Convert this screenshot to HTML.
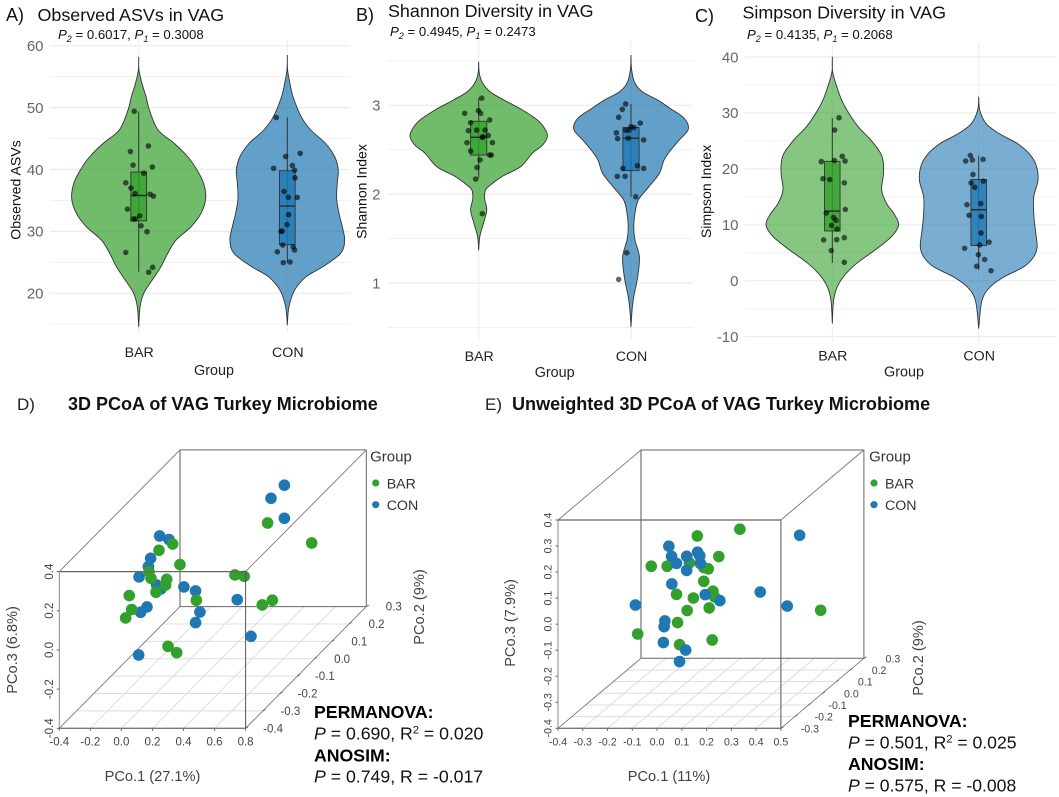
<!DOCTYPE html>
<html lang="en">
<head>
<meta charset="utf-8">
<title>VAG microbiome diversity and PCoA</title>
<style>
html,body{margin:0;padding:0;background:#fff;}
svg{display:block;font-family:"Liberation Sans",Arial,sans-serif;}
</style>
</head>
<body>
<svg id="fig" xmlns="http://www.w3.org/2000/svg" width="1059" height="797" viewBox="0 0 1059 797">
  <rect width="1059" height="797" fill="#fff"/>

  <text x="6" y="21" font-size="18" fill="#111">A)</text>
  <text x="37.5" y="21" font-size="17.9" fill="#111">Observed ASVs in VAG</text>
  <text x="58" y="39" font-size="13.2" fill="#111"><tspan font-style="italic">P</tspan><tspan font-style="italic" font-size="9" dy="3">2</tspan><tspan dy="-3"> = 0.6017, </tspan><tspan font-style="italic">P</tspan><tspan font-style="italic" font-size="9" dy="3">1</tspan><tspan dy="-3"> = 0.3008</tspan></text>
  <text transform="translate(20.5,190) rotate(-90)" text-anchor="middle" font-size="14.1" fill="#111">Observed ASVs</text>
  <text x="214" y="375" text-anchor="middle" font-size="14.4" fill="#222">Group</text>

  <text x="356" y="21" font-size="18" fill="#111">B)</text>
  <text x="388" y="17" font-size="17.9" fill="#111">Shannon Diversity in VAG</text>
  <text x="390" y="36" font-size="13.2" fill="#111"><tspan font-style="italic">P</tspan><tspan font-style="italic" font-size="9" dy="3">2</tspan><tspan dy="-3"> = 0.4945, </tspan><tspan font-style="italic">P</tspan><tspan font-style="italic" font-size="9" dy="3">1</tspan><tspan dy="-3"> = 0.2473</tspan></text>
  <text transform="translate(366.5,191.5) rotate(-90)" text-anchor="middle" font-size="14.1" fill="#111">Shannon Index</text>
  <text x="554.7" y="377" text-anchor="middle" font-size="14.4" fill="#222">Group</text>

  <text x="695" y="22" font-size="18" fill="#111">C)</text>
  <text x="742.5" y="18.5" font-size="17.9" fill="#111">Simpson Diversity in VAG</text>
  <text x="747" y="39" font-size="13.2" fill="#111"><tspan font-style="italic">P</tspan><tspan font-style="italic" font-size="9" dy="3">2</tspan><tspan dy="-3"> = 0.4135, </tspan><tspan font-style="italic">P</tspan><tspan font-style="italic" font-size="9" dy="3">1</tspan><tspan dy="-3"> = 0.2068</tspan></text>
  <text transform="translate(711,191.5) rotate(-90)" text-anchor="middle" font-size="14.1" fill="#111">Simpson Index</text>
  <text x="904" y="376.5" text-anchor="middle" font-size="14.4" fill="#222">Group</text>

  <text x="17" y="410" font-size="17" fill="#222">D)</text>
  <text x="68" y="410" font-size="18" font-weight="bold" fill="#111">3D PCoA of VAG Turkey Microbiome</text>
  <text x="485" y="410" font-size="17" fill="#222">E)</text>
  <text x="512" y="410" font-size="18.07" font-weight="bold" fill="#111">Unweighted 3D PCoA of VAG Turkey Microbiome</text>

  <text x="314" y="718" font-size="17.7" font-weight="bold" fill="#000">PERMANOVA:</text>
  <text x="314" y="739.5" font-size="17.7" fill="#111"><tspan font-style="italic">P</tspan> = 0.690, R<tspan font-size="11" dy="-6">2</tspan><tspan dy="6"> = 0.020</tspan></text>
  <text x="314" y="761.5" font-size="17.7" font-weight="bold" fill="#000">ANOSIM:</text>
  <text x="314" y="782.5" font-size="17.7" fill="#111"><tspan font-style="italic">P</tspan> = 0.749, R = -0.017</text>

  <text x="848" y="727" font-size="17.7" font-weight="bold" fill="#000">PERMANOVA:</text>
  <text x="848" y="748.5" font-size="17.6" fill="#111"><tspan font-style="italic">P</tspan> = 0.501, R<tspan font-size="11" dy="-6">2</tspan><tspan dy="6"> = 0.025</tspan></text>
  <text x="848" y="770" font-size="17.7" font-weight="bold" fill="#000">ANOSIM:</text>
  <text x="848" y="791.5" font-size="17.6" fill="#111"><tspan font-style="italic">P</tspan> = 0.575, R = -0.008</text>
</svg>

<script>
// ---------- Shared categories ----------
var groupLabels = ['BAR', 'CON'];

// ---------- Panel A: Observed ASVs ----------
var aTicks = [20, 30, 40, 50, 60];
var aMinorTicks = [15, 25, 35, 45, 55];
var aBarLevels = [58.2,56.06,53.9,51.8,49.6,46.4,44.2,42.06,39.9,37.75,35.3,32.9,30.75,28.6,26.45,24.3,22.1,20.0,17.8,14.6];
var aBarDensity = [0,.002,.022,.049,.072,.13,.24,.33,.393,.437,.451,.419,.352,.251,.195,.15,.09,.034,.009,0];
var aConLevels = [58.5,56.06,53.9,51.8,48.5,46.4,44.2,42.06,39.9,37.75,35.3,32.9,30.75,28.6,26.45,24.3,22.7,20.5,17.8,14.9];
var aConDensity = [0,.002,.018,.038,.094,.157,.258,.319,.343,.336,.332,.348,.37,.386,.359,.24,.128,.049,.011,0];
var aBarBox = [23.5, 31.7, 35.8, 39.6, 49.35];
var aConBox = [25, 27.85, 34.1, 39.8, 48.4];
var aBarValues = [49.4,42.9,43.8,40.7,40.4,39.4,37.85,37.0,36.1,36.0,35.7,33.6,32.5,32.0,32.0,30.9,29.95,26.6,24.2,23.4];
var aBarJitter = [-.03,-.056,.065,-.038,.092,.034,-.087,-.052,-.025,.076,.099,-.076,.007,-.036,-.022,.016,.056,-.087,.094,.067];
var aConValues = [48.4,42.1,42.6,40.65,40.2,39.9,38.65,36.45,35.5,35.5,32.7,31.1,30.0,30.05,27.8,27.5,27.0,26.7,24.95,25.05];
var aConJitter = [-.074,-.011,.087,.034,-.092,.049,.052,-.022,.007,.067,.009,-.002,-.043,-.034,-.031,.04,.049,-.067,-.027,.018];

// ---------- Panel B: Shannon ----------
var bTicks = [1, 2, 3];
var bMinorTicks = [0.5, 1.5, 2.5, 3.5];
var bBarLevels = [3.49,3.36,3.25,3.15,3.06,2.95,2.835,2.74,2.65,2.55,2.46,2.31,2.2,2.12,2.05,1.95,1.82,1.67,1.52,1.37];
var bBarDensity = [0,.004,.026,.077,.166,.284,.385,.433,.451,.418,.352,.276,.155,.09,.046,.039,.053,.031,.007,0];
var bConLevels = [3.566,3.4,3.25,3.15,3.06,2.966,2.853,2.73,2.61,2.5,2.384,2.234,2.084,1.934,1.784,1.634,1.484,1.296,1.07,.845,.695,.508];
var bConDensity = [0,.004,.026,.077,.175,.256,.35,.376,.317,.263,.217,.186,.118,.048,.026,.018,.026,.055,.044,.018,.007,0];
var bBarBox = [2.18, 2.44, 2.64, 2.82, 3.08];
var bConBox = [1.97, 2.265, 2.63, 2.75, 3.015];
var bBarValues = [3.08,2.91,2.94,2.91,2.835,2.805,2.72,2.715,2.72,2.66,2.64,2.645,2.58,2.58,2.485,2.44,2.44,2.385,2.30,2.17,1.78];
var bBarJitter = [.02,-.092,-.002,.013,.072,-.053,.042,-.068,-.013,.063,.024,.028,-.077,.09,-.053,.072,.083,.009,-.011,-.02,.024];
var bConValues = [3.015,2.955,2.865,2.80,2.76,2.75,2.72,2.72,2.69,2.625,2.63,2.61,2.29,2.32,2.29,2.20,2.20,1.97,1.34,1.04];
var bConJitter = [-.035,-.057,-.081,.061,0,.02,-.035,-.013,-.096,-.088,-.018,.083,-.053,.042,.083,-.09,-.039,.031,-.028,-.081];

// ---------- Panel C: Simpson ----------
var cTicks = [-10, 0, 10, 20, 30, 40];
var cMinorTicks = [-5, 5, 15, 25, 35];
var cBarLevels = [40.06,37.4,35,32.3,29.9,27.5,25.2,22.8,21,18.9,16.2,13.8,12,10,7.9,5.5,3.1,.7,-1.66,-4,-7.6];
var cBarDensity = [0,.002,.027,.064,.114,.178,.262,.33,.349,.349,.337,.371,.421,.453,.405,.292,.166,.075,.025,.007,0];
var cConLevels = [32.9,30.5,28.1,26.35,24.56,22.8,20.7,18,15,12,9.07,6.1,4.3,2.5,.7,-1.06,-3.45,-8.5];
var cConDensity = [0,.007,.05,.137,.262,.342,.392,.405,.376,.376,.387,.399,.376,.308,.173,.08,.023,0];
var cBarBox = [3.2, 8.9, 12.45, 21.35, 29.1];
var cConBox = [1.9, 6.3, 12.7, 18.1, 22.35];
var cBarValues = [29.15,26.95,21.5,22.25,21.3,21.4,18.25,18.1,17.5,12.75,12.1,11.3,10.8,9.9,9.25,7.3,7.35,7.7,5.4,3.3];
var cBarJitter = [.046,.016,.014,.068,-.075,.087,-.064,-.018,.082,.089,-.041,.009,.025,-.005,.032,-.059,.03,.082,-.007,.082];
var cConValues = [22.4,21.4,21.6,21.7,19.0,17.5,17.8,16.7,13.6,13.8,11.7,11.5,8.55,6.4,6.9,5.8,4.65,3.8,2.6,1.8];
var cConJitter = [-.057,-.089,-.043,.03,-.039,-.052,.032,-.027,-.08,.014,-.066,.018,.016,.007,.071,-.096,-.002,.041,-.014,.084];

// ---------- Panel D: 3D PCoA ----------
var dXTicks = [-0.4,-0.2,0.0,0.2,0.4,0.6,0.8];
var dYTicks = [-0.4,-0.3,-0.2,-0.1,0.0,0.1,0.2,0.3];
var dZTicks = [-0.4,-0.2,0.0,0.2,0.4];
var dConX = [.35,.264,.35,-.298,-.238,-.356,-.215,-.275,-.162,-.134,.014,.089,.202,-.224,-.265,.117,.089,.446,-.122];
var dConY = [.23,.23,.23,.09,.09,.09,-.05,-.05,-.05,-.05,-.05,-.05,.09,-.05,-.05,-.05,-.05,-.05,-.19];
var dConZ = [.282,.215,.113,.147,.129,.033,.115,.062,.021,.001,.011,-.009,-.178,-.091,-.118,-.117,-.171,-.241,-.212];
var dBarX = [.242,.526,-.214,-.302,-.167,-.211,-.198,-.097,-.104,-.166,-.338,.187,.247,.094,.363,.428,-.167,-.206,.067,.123];
var dBarY = [.23,.23,.09,.09,.09,-.05,-.05,-.05,-.05,-.05,-.05,.09,.09,-.05,.09,.09,-.19,-.19,-.19,-.19];
var dBarZ = [.089,-.013,.106,.074,.001,.089,.055,.05,.021,-.016,-.033,-.052,-.059,-.057,-.205,-.181,.02,-.023,-.168,-.2];

// ---------- Panel E: 3D PCoA (unweighted) ----------
var eXTicks = [-0.4,-0.3,-0.2,-0.1,0.0,0.1,0.2,0.3,0.4,0.5];
var eYTicks = [-0.3,-0.2,-0.1,0.0,0.1,0.2,0.3];
var eZTicks = [-0.4,-0.3,-0.2,-0.1,0.0,0.1,0.2,0.3,0.4];
var eBarX = [.083,-.089,-.002,-.191,-.127,-.037,.021,.039,.021,.058,-.089,-.021,.065,.043,-.046,.493,-.001,-.162,.139,.007];
var eBarY = [.15,.15,.15,0,0,0,0,0,0,0,0,0,0,0,0,0,-.15,-.15,-.15,-.15];
var eBarZ = [.163,.137,.058,.088,.088,.101,.083,.078,.03,-.008,-.02,-.034,-.03,-.072,-.082,-.081,-.061,-.105,-.128,-.146];
var eConX = [.408,-.12,-.109,-.048,-.004,.005,.007,-.089,-.048,-.108,.027,.086,.249,.358,-.255,-.136,-.139,-.142,-.052,-.077];
var eConY = [0,0,0,0,0,0,0,0,0,0,0,0,0,0,0,0,0,0,0,0];
var eConZ = [.207,.165,.126,.126,.142,.128,.099,.099,.072,.02,-.021,-.044,-.011,-.065,-.061,-.122,-.144,-.205,-.234,-.278];

// ---------- Drawing helpers ----------
var NS = 'http://www.w3.org/2000/svg';
var fig = document.getElementById('fig');
var GREEN = '#33a02c';
var BLUE = '#1f78b4';

function make(tag, parent, props) {
  var n = document.createElementNS(NS, tag);
  for (var k in props) { n.setAttribute(k, props[k]); }
  parent.appendChild(n);
  return n;
}
function linear(d0, d1, r0, r1) {
  return function (v) { return r0 + (v - d0) / (d1 - d0) * (r1 - r0); };
}
function smoothPath(pts) {
  var d = 'M' + pts[0][0].toFixed(2) + ' ' + pts[0][1].toFixed(2);
  for (var i = 0; i < pts.length - 1; i++) {
    var p0 = pts[Math.max(i - 1, 0)], p1 = pts[i], p2 = pts[i + 1], p3 = pts[Math.min(i + 2, pts.length - 1)];
    var c1x = p1[0] + (p2[0] - p0[0]) / 6, c1y = p1[1] + (p2[1] - p0[1]) / 6;
    var c2x = p2[0] - (p3[0] - p1[0]) / 6, c2y = p2[1] - (p3[1] - p1[1]) / 6;
    d += 'C' + c1x.toFixed(2) + ' ' + c1y.toFixed(2) + ' ' + c2x.toFixed(2) + ' ' + c2y.toFixed(2) + ' ' + p2[0].toFixed(2) + ' ' + p2[1].toFixed(2);
  }
  return d;
}

function drawGroup(g, prefix, cat, xS, yS, levels, density, box, values, jitter, color, alpha) {
  var unit = xS(1) - xS(0);
  var cx = xS(cat);
  var left = [], right = [];
  for (var i = 0; i < levels.length; i++) {
    left.push([cx - density[i] * unit, yS(levels[i])]);
    right.push([cx + density[i] * unit, yS(levels[i])]);
  }
  var violin = make('path', g, {
    d: smoothPath(right) + smoothPath(left.slice().reverse()).replace(/^M[^C]*/, ''),
    fill: color, 'fill-opacity': alpha, stroke: '#333', 'stroke-width': 0.9, 'stroke-linejoin': 'round'
  });
  
  

  var whisker = make('line', g, { x1: cx, x2: cx, y1: yS(box[0]), y2: yS(box[4]), stroke: '#333', 'stroke-width': 1 });
  
  

  var halfBox = 0.053 * unit;
  var rect = make('rect', g, {
    x: cx - halfBox, y: yS(box[3]), width: 2 * halfBox, height: yS(box[1]) - yS(box[3]),
    fill: color, 'fill-opacity': 0.8, stroke: '#333', 'stroke-width': 0.9
  });
  
  

  var median = make('line', g, { x1: cx - halfBox, x2: cx + halfBox, y1: yS(box[2]), y2: yS(box[2]), stroke: '#2a2a2a', 'stroke-width': 1.4 });
  
  

  for (var j = 0; j < values.length; j++) {
    var dot = make('circle', g, { cx: cx + jitter[j] * unit, cy: yS(values[j]), r: 2.8, fill: '#000', 'fill-opacity': 0.6 });
    
    
  }
}

function drawViolinPanel(o) {
  var g = make('g', fig, {});
  
  
  var xS = linear(0, 1, o.cat0, o.cat1);
  var yS = linear(o.d0, o.d1, o.r0, o.r1);
  var i, ln, t;
  for (i = 0; i < o.minor.length; i++) {
    ln = make('line', g, { x1: o.left, x2: o.right, y1: yS(o.minor[i]), y2: yS(o.minor[i]), stroke: '#f0f0f0', 'stroke-width': 1 });
    
    
  }
  for (i = 0; i < o.ticks.length; i++) {
    ln = make('line', g, { x1: o.left, x2: o.right, y1: yS(o.ticks[i]), y2: yS(o.ticks[i]), stroke: '#ebebeb', 'stroke-width': 1.2 });
    
    
    t = make('text', g, { x: o.tickX, y: yS(o.ticks[i]) + 5.3, 'text-anchor': 'end', 'font-size': 15, fill: '#666' });
    t.textContent = o.ticks[i];
    
    
  }
  for (i = 0; i < groupLabels.length; i++) {
    ln = make('line', g, { x1: xS(i), x2: xS(i), y1: o.top, y2: o.bottom, stroke: '#ebebeb', 'stroke-width': 1 });
    
    
    t = make('text', g, { x: xS(i) + 0.5, y: o.labelY, 'text-anchor': 'middle', 'font-size': 14.2, fill: '#222' });
    t.textContent = groupLabels[i];
    
    
  }
  drawGroup(g, o.name + '-bar', 0, xS, yS, o.barLevels, o.barDensity, o.barBox, o.barValues, o.barJitter, GREEN, o.alpha);
  drawGroup(g, o.name + '-con', 1, xS, yS, o.conLevels, o.conDensity, o.conBox, o.conValues, o.conJitter, BLUE, o.alpha);
}

function drawScatter3d(o) {
  var g = make('g', fig, {});
  
  
  var xN = linear(o.xTicks[0], o.xTicks[o.xTicks.length - 1], 0, 1);
  var yN = linear(o.yTicks[0], o.yTicks[o.yTicks.length - 1], 0, 1);
  var zN = linear(o.zTicks[0], o.zTicks[o.zTicks.length - 1], 0, 1);
  function px(x, y) { return o.ox + xN(x) * o.w + yN(y) * o.dx; }
  function py(y, z) { return o.oy - zN(z) * o.h + yN(y) * o.dy; }
  var xa = o.xTicks[0], xb = o.xTicks[o.xTicks.length - 1];
  var ya = o.yTicks[0], yb = o.yTicks[o.yTicks.length - 1];
  var za = o.zTicks[0], zb = o.zTicks[o.zTicks.length - 1];
  var i, ln, t;

  function seg(x1, y1, z1, x2, y2, z2, col, w, nm) {
    var s = make('line', g, { x1: px(x1, y1), y1: py(y1, z1), x2: px(x2, y2), y2: py(y2, z2), stroke: col, 'stroke-width': w });
    
    
  }
  for (i = 1; i < o.xTicks.length - 1; i++) { seg(o.xTicks[i], ya, za, o.xTicks[i], yb, za, '#dddddd', 1, o.name + '-floor-gridline'); }
  for (i = 1; i < o.yTicks.length - 1; i++) { seg(xa, o.yTicks[i], za, xb, o.yTicks[i], za, '#dddddd', 1, o.name + '-floor-gridline'); }

  seg(xa, yb, zb, xb, yb, zb, '#666', 1, o.name + '-back-top-edge');
  seg(xa, yb, za, xb, yb, za, '#666', 1, o.name + '-back-bottom-edge');
  seg(xa, yb, za, xa, yb, zb, '#555', 1, o.name + '-back-left-edge');
  seg(xb, yb, za, xb, yb, zb, '#666', 1, o.name + '-back-right-edge');
  seg(xa, ya, zb, xa, yb, zb, '#777', 0.9, o.name + '-top-left-edge');
  seg(xb, ya, zb, xb, yb, zb, '#777', 0.9, o.name + '-top-right-edge');
  seg(xa, ya, za, xa, yb, za, '#777', 0.9, o.name + '-floor-left-edge');
  seg(xb, ya, za, xb, yb, za, '#777', 0.9, o.name + '-floor-right-edge');
  seg(xa, ya, za, xa, ya, zb, '#888', 1, o.name + '-front-left-edge');
  seg(xa, ya, za, xb, ya, za, '#777', 1.3, o.name + '-front-bottom-edge');

  drawMarks(g, o.name + '-' + o.first[0], o.first[1], o.first[2], o.first[3], o.first[4], px, py);
  drawMarks(g, o.name + '-' + o.second[0], o.second[1], o.second[2], o.second[3], o.second[4], px, py);

  seg(xa, ya, zb, xb, ya, zb, '#666', 1.3, o.name + '-front-top-edge');
  seg(xb, ya, za, xb, ya, zb, '#555', 1, o.name + '-front-right-edge');

  for (i = 0; i < o.xTicks.length; i++) {
    var tx = px(o.xTicks[i], ya);
    ln = make('line', g, { x1: tx, x2: tx, y1: o.oy, y2: o.oy + 2.5, stroke: '#666', 'stroke-width': 1 });
    
    
    t = make('text', g, { x: tx, y: o.oy + 17, 'text-anchor': 'middle', 'font-size': o.tickFont, fill: '#444' });
    t.textContent = o.xTicks[i].toFixed(1);
    
    
  }
  for (i = 0; i < o.zTicks.length; i++) {
    var tz = py(ya, o.zTicks[i]);
    ln = make('line', g, { x1: o.ox - 2.5, x2: o.ox, y1: tz, y2: tz, stroke: '#666', 'stroke-width': 1 });
    
    
    t = make('text', g, { transform: 'translate(' + (o.ox - 6.5) + ',' + tz + ') rotate(-90)', 'text-anchor': 'middle', 'font-size': o.tickFont, fill: '#444' });
    t.textContent = o.zTicks[i].toFixed(1);
    
    
  }
  for (i = 0; i < o.yTicks.length; i++) {
    var ex = px(xb, o.yTicks[i]), ey = py(o.yTicks[i], za);
    ln = make('line', g, { x1: ex, x2: ex + 2.5, y1: ey, y2: ey - 1.5, stroke: '#666', 'stroke-width': 1 });
    
    
    t = make('text', g, { x: ex + o.yLabelDx, y: ey + 4, 'text-anchor': 'middle', 'font-size': o.tickFont, fill: '#444' });
    t.textContent = o.yTicks[i].toFixed(1);
    
    
  }

  t = make('text', g, { x: o.xTitle[0], y: o.xTitle[1], 'text-anchor': 'middle', 'font-size': 14.6, fill: '#444' });
  t.textContent = o.xTitle[2];
  
  
  t = make('text', g, { transform: 'translate(' + o.zTitle[0] + ',' + o.zTitle[1] + ') rotate(-90)', 'text-anchor': 'middle', 'font-size': 14.6, fill: '#444' });
  t.textContent = o.zTitle[2];
  
  
  t = make('text', g, { transform: 'translate(' + o.yTitle[0] + ',' + o.yTitle[1] + ') rotate(-90)', 'text-anchor': 'middle', 'font-size': 14.6, fill: '#444' });
  t.textContent = o.yTitle[2];
  
  

  t = make('text', g, { x: o.legendTitleX, y: 461.5, 'text-anchor': 'middle', 'font-size': 15, fill: '#333' });
  t.textContent = 'Group';
  
  
  for (i = 0; i < groupLabels.length; i++) {
    var ly = 483 + i * 21.7;
    var key = make('circle', g, { cx: o.legendDotX, cy: ly, r: 3.6, fill: i === 0 ? GREEN : BLUE });
    
    
    t = make('text', g, { x: o.legendDotX + 11, y: ly + 5.5, 'font-size': 14.2, fill: '#333' });
    t.textContent = groupLabels[i];
    
    
  }
}

function drawMarks(g, nm, xs, ys, zs, color, px, py) {
  for (var i = 0; i < xs.length; i++) {
    var c = make('circle', g, { cx: px(xs[i], ys[i]), cy: py(ys[i], zs[i]), r: 5.8, fill: color });
    
    
  }
}

// ---------- Render ----------
drawViolinPanel({ name: 'panel-a', cat0: 138.7, cat1: 287.3, d0: 20, d1: 60, r0: 293.3, r1: 45.7,
  left: 50, right: 350, top: 40, bottom: 333, tickX: 43.5, labelY: 357, alpha: 0.7,
  ticks: aTicks, minor: aMinorTicks,
  barLevels: aBarLevels, barDensity: aBarDensity, barBox: aBarBox, barValues: aBarValues, barJitter: aBarJitter,
  conLevels: aConLevels, conDensity: aConDensity, conBox: aConBox, conValues: aConValues, conJitter: aConJitter });

drawViolinPanel({ name: 'panel-b', cat0: 478.7, cat1: 631, d0: 1, d1: 3, r0: 283, r1: 105.3,
  left: 387.5, right: 693, top: 41, bottom: 340, tickX: 380.5, labelY: 361, alpha: 0.7,
  ticks: bTicks, minor: bMinorTicks,
  barLevels: bBarLevels, barDensity: bBarDensity, barBox: bBarBox, barValues: bBarValues, barJitter: bBarJitter,
  conLevels: bConLevels, conDensity: bConDensity, conBox: bConBox, conValues: bConValues, conJitter: bConJitter });

drawViolinPanel({ name: 'panel-c', cat0: 832.3, cat1: 978.7, d0: -10, d1: 40, r0: 336.7, r1: 57,
  left: 745, right: 1057, top: 43, bottom: 342, tickX: 738.5, labelY: 360.5, alpha: 0.6,
  ticks: cTicks, minor: cMinorTicks,
  barLevels: cBarLevels, barDensity: cBarDensity, barBox: cBarBox, barValues: cBarValues, barJitter: cBarJitter,
  conLevels: cConLevels, conDensity: cConDensity, conBox: cConBox, conValues: cConValues, conJitter: cConJitter });

drawScatter3d({ name: 'panel-d', ox: 59.3, oy: 728.3, w: 186.3, h: 156.7, dx: 120.7, dy: -121.7, tickFont: 11.5, yLabelDx: 27.5,
  xTicks: dXTicks, yTicks: dYTicks, zTicks: dZTicks,
  first: ['con', dConX, dConY, dConZ, BLUE], second: ['bar', dBarX, dBarY, dBarZ, GREEN],
  xTitle: [152.5, 781, 'PCo.1 (27.1%)'], zTitle: [17, 650, 'PCo.3 (6.8%)'], yTitle: [424, 607, 'PCo.2 (9%)'],
  legendTitleX: 391, legendDotX: 375.7 });

drawScatter3d({ name: 'panel-e', ox: 558, oy: 728.3, w: 222.9, h: 208.3, dx: 83, dy: -70, tickFont: 10.6, yLabelDx: 29,
  xTicks: eXTicks, yTicks: eYTicks, zTicks: eZTicks,
  first: ['bar', eBarX, eBarY, eBarZ, GREEN], second: ['con', eConX, eConY, eConZ, BLUE],
  xTitle: [669, 781, 'PCo.1 (11%)'], zTitle: [515, 623, 'PCo.3 (7.9%)'], yTitle: [923, 658, 'PCo.2 (9%)'],
  legendTitleX: 890, legendDotX: 874 });
</script>
</body>
</html>
